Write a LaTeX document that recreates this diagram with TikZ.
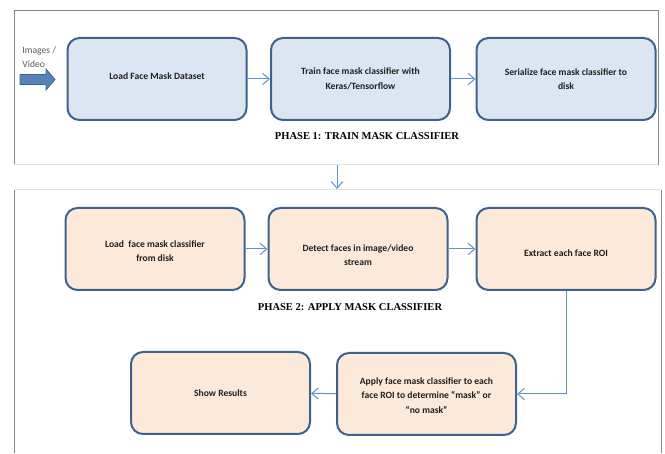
\documentclass[tikz,border=0pt]{standalone}
\usepackage{fontspec}
\setmainfont{Carlito}
\newfontfamily\phasefont{Liberation Serif}
\usetikzlibrary{arrows.meta}

\definecolor{boxline}{RGB}{62,98,142}
\definecolor{trainfill}{RGB}{220,230,242}
\definecolor{applyfill}{RGB}{252,233,218}
\definecolor{flowline}{RGB}{96,145,205}
\definecolor{framegray}{RGB}{135,135,135}
\definecolor{framelight}{RGB}{226,226,226}
\definecolor{labelgray}{RGB}{90,90,90}

\tikzset{every picture/.style={line width=0.75pt}}
\tikzset{
  stepbox/.style={draw=boxline, line width=1.5pt, rounded corners=9pt,
    minimum width=134.25pt, minimum height=61.5pt, inner sep=0.75pt,
    align=center, text=black!88, font=\fontsize{7.2}{11}\selectfont\bfseries},
  trainbox/.style={stepbox, fill=trainfill},
  applybox/.style={stepbox, fill=applyfill},
  flow/.style={draw=flowline, line width=0.75pt, -{Straight Barb[length=5pt,width=8.5pt]}},
  phaselabel/.style={font=\phasefont\fontsize{7.9}{9}\selectfont\bfseries, inner sep=0.75pt},
}
% strut to push a box text down (height) or up (depth)
\newcommand{\downstrut}[1]{\rule{0pt}{#1}}
\newcommand{\upstrut}[1]{\rule[-#1]{0pt}{#1}}

\begin{document}
\begin{tikzpicture}[x=0.75pt,y=0.75pt,yscale=-1,xscale=1]
%set diagram size to 665 x 453
\path (0,0) rectangle (665,453);

%Shape: Panel 1 frame
\draw [color=framegray]  (14,165) -- (14,11) -- (658,11) -- (658,165) ;
\draw [color=framelight]  (14,165) -- (658,165) ;
%Shape: Panel 2 frame
\draw [color=framegray]  (14,453) -- (14,190) ;
\draw [color=framegray]  (661,190) -- (661,453) ;
\draw [color=framelight]  (14,190) -- (661,190) ;

%Shape: Block Arrow (input)
\draw [draw=boxline, fill=flowline!90!black, line width=0.6pt]  (20,74.5) -- (46,74.5) -- (46,69) -- (55,79.5) -- (46,90) -- (46,84.5) -- (20,84.5) -- cycle ;

% Text Node
\node (inlabel) [anchor=north west, inner sep=0.75pt, align=left, text=labelgray, font=\fontsize{7.2}{10.5}\selectfont] at (21,45) {Images /\\Video};

% Phase 1 boxes
\node (loadset) [trainbox] at (157,79) {Load Face Mask Dataset\upstrut{4.5pt}};
\node (train) [trainbox] at (360.5,79) {Train face mask classifier with\\Keras/Tensorflow};
\node (serial) [trainbox] at (566,79) {Serialize face mask classifier to\\disk};
% Text Node
\node (phase1) [phaselabel] at (367,136) {PHASE 1: TRAIN MASK CLASSIFIER};

% Phase 2 boxes
\node (loadclf) [applybox] at (155,249) {\downstrut{8.4pt}Load\ \ face mask classifier\\from disk};
\node (detect) [applybox] at (358,249) {\downstrut{14.4pt}Detect faces in image/video\\stream};
\node (extract) [applybox] at (566,249) {\downstrut{11.4pt}Extract each face ROI};
% Text Node
\node (phase2) [phaselabel] at (350,307) {PHASE 2: APPLY MASK CLASSIFIER};

\node (apply) [applybox] at (426.5,394) {\downstrut{7.4pt}Apply face mask classifier to each\\face ROI to determine “mask” or\\“no mask”};
\node (show) [applybox] at (220.5,393) {Show Results};

%Straight Lines
\coordinate (p1out) at (337,165);
\coordinate (p2in) at (337,189);
\draw [flow]  (p1out) -- (p2in) ;
\draw [flow]  (loadset) -- (train) ;
\draw [flow]  (train) -- (serial) ;
\draw [flow]  (loadclf) -- (detect) ;
\draw [flow]  (detect) -- (extract) ;
\draw [flow]  (extract.south) |- (apply.east) ;
\draw [flow]  (apply) -- (show) ;

\end{tikzpicture}
\end{document}
